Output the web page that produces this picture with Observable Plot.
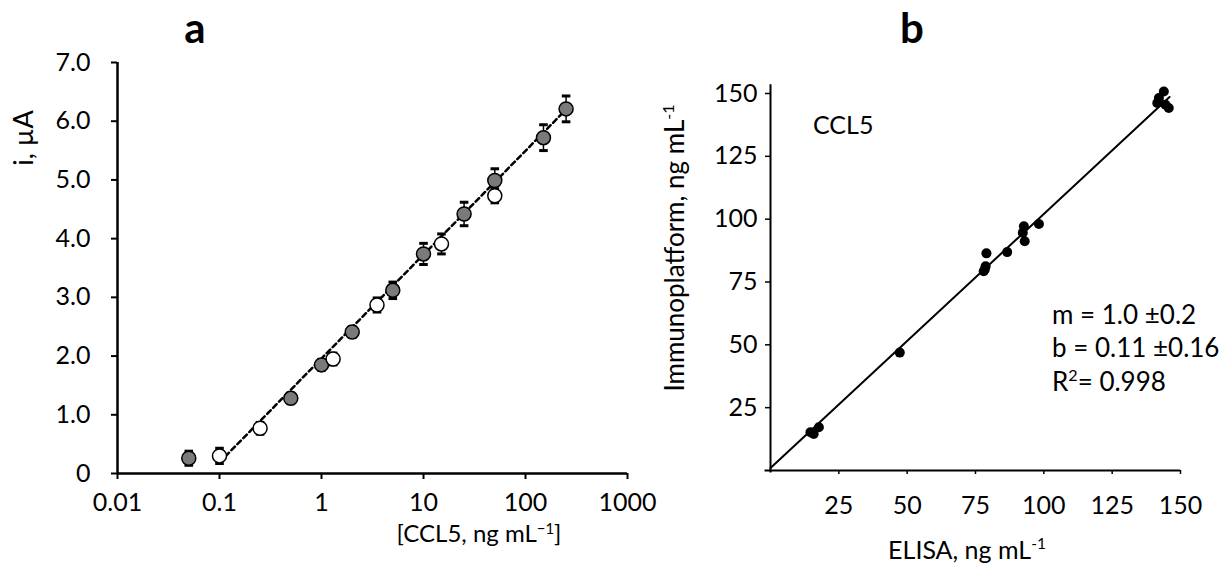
<!DOCTYPE html>
<html><head><meta charset="utf-8">
<script src="https://cdn.jsdelivr.net/npm/d3@7"></script>
<script src="https://cdn.jsdelivr.net/npm/@observablehq/plot@0.6"></script>
<style>
html,body{margin:0;padding:0;background:#fff;}
#wrap{position:relative;width:1226px;height:565px;overflow:hidden;font-family:Lato,sans-serif;color:#000;}
#wrap svg{position:absolute;top:0;}
</style></head><body><div id="wrap"></div>
<script>
// ---------- Panel a: calibration (log x) ----------
const concGray = [0.05, 0.5, 1, 2, 5, 10, 25, 50, 150, 250];
const currGray = [0.26, 1.28, 1.85, 2.41, 3.12, 3.74, 4.42, 4.99, 5.72, 6.21];
const errGray  = [0.12, 0.09, 0.09, 0.09, 0.14, 0.18, 0.20, 0.20, 0.22, 0.22];

const concWhite = [0.1, 0.25, 1.3, 3.5, 15, 50];
const currWhite = [0.30, 0.77, 1.95, 2.87, 3.91, 4.73];
const errWhite  = [0.13, 0.10, 0.10, 0.12, 0.17, 0.12];

const fitAconc = [0.1, 250];
const fitAcurr = [0.19, 6.20];

const xTicksA = [0.01, 0.1, 1, 10, 100, 1000];
const xTickLabelsA = ["0.01", "0.1", "1", "10", "100", "1000"];
const yTicksA = [0, 1, 2, 3, 4, 5, 6, 7];
const yTickLabelsA = ["0", "1.0", "2.0", "3.0", "4.0", "5.0", "6.0", "7.0"];

// ---------- Panel b: correlation ----------
const elisa  = [14.6, 15.8, 17.7, 47.3, 78.0, 78.4, 78.7, 79.0, 86.6, 92.3, 92.7, 93.0, 98.2, 141.5, 142.1, 143.9, 144.5, 145.7];
const immuno = [15.2, 14.5, 17.2, 46.9, 79.3, 80.0, 81.3, 86.4, 86.9, 94.6, 97.2, 91.2, 98.1, 146.2, 148.2, 150.8, 145.5, 144.2];
const fitBx = [0, 146];
const fitBy = [1, 148.6];
const xTicksB = [25, 50, 75, 100, 125, 150];
const yTicksB = [25, 50, 75, 100, 125, 150];

// ---------- build ----------
const gray = concGray.map((c, i) => ({c, v: currGray[i], e: errGray[i]}));
const white = concWhite.map((c, i) => ({c, v: currWhite[i], e: errWhite[i]}));
const fitA = fitAconc.map((c, i) => ({c, v: fitAcurr[i]}));
const corr = elisa.map((x, i) => ({x, y: immuno[i]}));
const fitB = fitBx.map((x, i) => ({x, y: fitBy[i]}));

const hbar = {draw(ctx, size) { const r = Math.sqrt(size / Math.PI); ctx.moveTo(-r, 0); ctx.lineTo(r, 0); }};
const FONT = "Lato, sans-serif";

function errMarks(data) {
  return [
    Plot.ruleX(data, {x: "c", y1: d => d.v - d.e, y2: d => d.v + d.e, stroke: "black", strokeWidth: 1.5}),
    Plot.dot(data, {x: "c", y: d => d.v + d.e, symbol: hbar, r: 4.3, stroke: "black", strokeWidth: 3}),
    Plot.dot(data, {x: "c", y: d => d.v - d.e, symbol: hbar, r: 4.3, stroke: "black", strokeWidth: 3})
  ];
}

const plotA = Plot.plot({
  width: 650, height: 565,
  marginLeft: 117, marginRight: 23, marginTop: 62, marginBottom: 92,
  x: {type: "log", domain: [0.01, 1000]},
  y: {domain: [0, 7]},
  style: {fontFamily: FONT, background: "transparent", overflow: "visible", color: "black"},
  marks: [
    Plot.axisY({ticks: yTicksA, tickFormat: d => yTickLabelsA[yTicksA.indexOf(d)], tickSize: 6, tickPadding: 21, fontSize: 25, strokeWidth: 2, label: null}),
    Plot.axisX({ticks: xTicksA, tickFormat: d => xTickLabelsA[xTicksA.indexOf(d)], tickSize: 6, tickPadding: 14, fontSize: 25, strokeWidth: 2, label: null}),
    Plot.ruleX([xTicksA[0]], {y1: () => yTicksA[0], y2: () => yTicksA[yTicksA.length - 1], strokeWidth: 2.5}),
    Plot.ruleY([yTicksA[0]], {x1: () => xTicksA[0], x2: () => xTicksA[xTicksA.length - 1], strokeWidth: 2.5}),
    Plot.line(fitA, {x: "c", y: "v", stroke: "black", strokeWidth: 2.5, strokeDasharray: "5,3.5"}),
    ...errMarks(gray), ...errMarks(white),
    Plot.dot(gray, {x: "c", y: "v", r: 7, fill: "#7a7a7a", stroke: "black", strokeWidth: 1.5}),
    Plot.dot(white, {x: "c", y: "v", r: 7, fill: "white", stroke: "black", strokeWidth: 1.5})
  ]
});
plotA.style.left = "0px";

const plotB = Plot.plot({
  width: 576, height: 565,
  marginLeft: 120, marginRight: 46, marginTop: 93, marginBottom: 95,
  x: {domain: [0, 150]},
  y: {domain: [0, 150]},
  style: {fontFamily: FONT, background: "transparent", overflow: "visible", color: "black"},
  marks: [
    Plot.axisY({ticks: yTicksB, tickSize: 5, tickPadding: 8, fontSize: 25, strokeWidth: 1.5, label: null}),
    Plot.axisX({ticks: xTicksB, tickSize: 4, tickPadding: 22, fontSize: 25, strokeWidth: 1.5, label: null}),
    Plot.ruleX([0], {y1: () => -1, y2: () => 153.5, strokeWidth: 2}),
    Plot.ruleY([0], {x1: () => -2, x2: () => 150, strokeWidth: 2}),
    Plot.line(fitB, {x: "x", y: "y", stroke: "black", strokeWidth: 2}),
    Plot.dot(corr, {x: "x", y: "y", r: 5, fill: "black"})
  ]
});
plotB.style.left = "650px";

const wrap = document.getElementById("wrap");
wrap.append(plotA, plotB);

// ---------- text overlay ----------
const ov = d3.select(wrap).append("svg")
  .attr("width", 1226).attr("height", 565)
  .style("left", "0px").style("font-family", FONT);

function txt(x, y, opts = {}) {
  const t = ov.append("text").attr("x", x).attr("y", y)
    .attr("font-size", opts.size || 25)
    .attr("font-weight", opts.weight || "normal")
    .attr("text-anchor", opts.anchor || "start")
    .attr("fill", "black");
  if (opts.rotate) t.attr("transform", `rotate(${opts.rotate},${x},${y})`);
  return t;
}
function withSup(t, base, sup, after, raise = 10) {
  t.append("tspan").text(base);
  t.append("tspan").attr("dy", -raise).attr("font-size", "0.62em").text(sup);
  if (after) t.append("tspan").attr("dy", raise).text(after);
  return t;
}

txt(195, 43, {size: 42, weight: "bold", anchor: "middle"}).text("a");
txt(912, 43, {size: 42, weight: "bold", anchor: "middle"}).text("b");

txt(33, 138, {size: 27, anchor: "middle", rotate: -90}).text("i, µA");
withSup(txt(479, 542, {size: 24, anchor: "middle"}), "[CCL5, ng mL", "−1", "]", 8);

withSup(txt(684, 248, {size: 26, anchor: "middle", rotate: -90}), "Immunoplatform,  ng mL", "-1");
withSup(txt(967, 559, {size: 25, anchor: "middle"}), "ELISA, ng mL", "-1");

txt(813, 134, {size: 25}).text("CCL5");
txt(1052, 324, {size: 26}).text("m = 1.0 ±0.2");
txt(1052, 357, {size: 26}).text("b = 0.11 ±0.16");
withSup(txt(1052, 391, {size: 26}), "R", "2", "= 0.998");
</script>
</body></html>
